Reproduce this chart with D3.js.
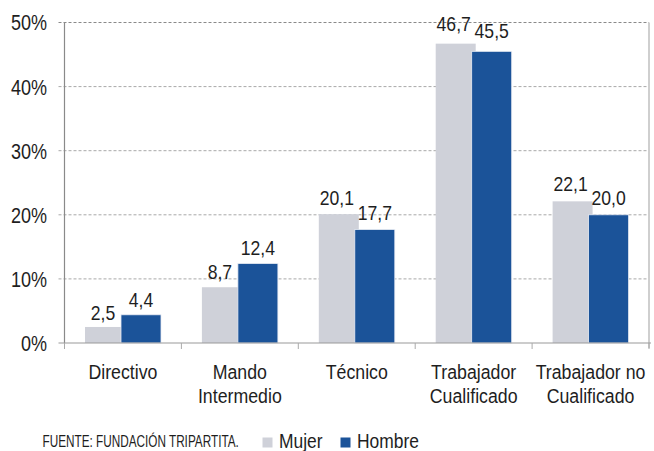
<!DOCTYPE html>
<html>
<head>
<meta charset="utf-8">
<script src="https://cdn.jsdelivr.net/npm/d3@7"></script>
<style>
  body { margin: 0; background: #fff; }
  text { font-family: "Liberation Sans", Arial, sans-serif; fill: #1e1e1e; }
</style>
</head>
<body>
<svg id="chart"></svg>
<script>
var categories = [["Directivo"], ["Mando", "Intermedio"], ["Técnico"], ["Trabajador", "Cualificado"], ["Trabajador no", "Cualificado"]];
var mujer = [2.5, 8.7, 20.1, 46.7, 22.1];
var hombre = [4.4, 12.4, 17.7, 45.5, 20.0];
var yTicks = [0, 10, 20, 30, 40, 50];
var seriesNames = ["Mujer", "Hombre"];
var sourceText = "FUENTE: FUNDACIÓN TRIPARTITA.";

var GRAY = '#cfd1d9';
var BLUE = '#1b5399';

var W = 654, H = 451;
var mLeft = 64.5, mRight = 649, mTop = 22.5, mBottom = 343;

var svg = d3.select("#chart").attr("width", W).attr("height", H);

var x = d3.scaleBand().domain(d3.range(categories.length)).range([mLeft, mRight]).padding(0);
var y = d3.scaleLinear().domain([0, 50]).range([mBottom, mTop]);

// condensed look: horizontal squeeze around the anchor point
function squeeze(sel, fx, fy, sx) {
  sel.attr("x", 0).attr("y", 0)
    .attr("transform", function(d, i) {
      return "translate(" + fx(d, i) + "," + fy(d, i) + ") scale(" + sx + ",1)";
    });
}

// grid lines
svg.selectAll("line.grid")
  .data(yTicks.filter(function(d) { return d > 0; }))
  .enter().append("line")
  .attr("class", "grid")
  .attr("x1", mLeft - 6).attr("x2", mRight)
  .attr("y1", function(d) { return y(d); })
  .attr("y2", function(d) { return y(d); })
  .attr("stroke", function(d) { return d === 50 ? '#8a8a8a' : '#a8a8a8'; })
  .attr("stroke-width", 1)
  .attr("stroke-dasharray", "3,2");

// right border
svg.append("line")
  .attr("x1", mRight).attr("x2", mRight)
  .attr("y1", mTop).attr("y2", mBottom + 5)
  .attr("stroke", "#cfcfcf").attr("stroke-width", 2);

// bars
var bw = 40;
var off = 20.5;
svg.selectAll("rect.mujer")
  .data(mujer).enter().append("rect")
  .attr("class", "mujer")
  .attr("x", function(d, i) { return x(i) + off; })
  .attr("y", function(d) { return y(d); })
  .attr("width", bw)
  .attr("height", function(d) { return y(0) - y(d); })
  .attr("fill", GRAY);

svg.selectAll("rect.hombre")
  .data(hombre).enter().append("rect")
  .attr("class", "hombre")
  .attr("x", function(d, i) { return x(i) + off + 36; })
  .attr("y", function(d) { return y(d); })
  .attr("width", bw)
  .attr("height", function(d) { return y(0) - y(d); })
  .attr("fill", BLUE)
  .attr("stroke", "#e8ecf3").attr("stroke-width", 0.8);

// value labels (gap above bar grows a little with bar height, like the original)
function fmt(v) { return v.toFixed(1).replace(".", ","); }
function labelY(d) { return y(d) - (7 + d * 0.13); }
svg.selectAll("text.vm")
  .data(mujer).enter().append("text")
  .attr("class", "vm")
  .attr("text-anchor", "middle")
  .attr("font-size", 20)
  .text(fmt)
  .call(squeeze, function(d, i) { return x(i) + off + 18; }, labelY, 0.88);
svg.selectAll("text.vh")
  .data(hombre).enter().append("text")
  .attr("class", "vh")
  .attr("text-anchor", "middle")
  .attr("font-size", 20)
  .text(fmt)
  .call(squeeze, function(d, i) { return x(i) + off + 56; }, labelY, 0.88);

// y axis
svg.append("line")
  .attr("x1", mLeft).attr("x2", mLeft)
  .attr("y1", mTop).attr("y2", mBottom)
  .attr("stroke", "#8a8a8a").attr("stroke-width", 1.2);
svg.selectAll("text.ytick")
  .data(yTicks).enter().append("text")
  .attr("class", "ytick")
  .attr("dy", "0.36em")
  .attr("text-anchor", "end")
  .attr("font-size", 22)
  .text(function(d) { return d + "%"; })
  .call(squeeze, function() { return 47; }, function(d) { return y(d); }, 0.82);

// x axis
svg.append("line")
  .attr("x1", mLeft - 6).attr("x2", mRight + 2)
  .attr("y1", mBottom).attr("y2", mBottom)
  .attr("stroke", "#999").attr("stroke-width", 1.2);
svg.selectAll("line.xtick")
  .data(d3.range(categories.length + 1)).enter().append("line")
  .attr("class", "xtick")
  .attr("x1", function(d) { return mLeft + d * x.bandwidth(); })
  .attr("x2", function(d) { return mLeft + d * x.bandwidth(); })
  .attr("y1", mBottom).attr("y2", mBottom + 6)
  .attr("stroke", "#aaa").attr("stroke-width", 1);

var catLines = [];
categories.forEach(function(c, i) {
  c.forEach(function(s, j) { catLines.push({ s: s, i: i, j: j }); });
});
svg.selectAll("text.cat")
  .data(catLines).enter().append("text")
  .attr("class", "cat")
  .attr("text-anchor", "middle")
  .attr("font-size", 21)
  .text(function(d) { return d.s; })
  .call(squeeze, function(d) { return x(d.i) + x.bandwidth() / 2; }, function(d) { return 379 + d.j * 23.5; }, 0.845);

// footer + legend
svg.append("text")
  .attr("font-size", 16)
  .text(sourceText)
  .call(squeeze, function() { return 42.5; }, function() { return 446.5; }, 0.735);

var legColors = [GRAY, BLUE];
var legX = [262.5, 340.5];
svg.selectAll("rect.leg")
  .data(seriesNames).enter().append("rect")
  .attr("class", "leg")
  .attr("x", function(d, i) { return legX[i]; })
  .attr("y", 437.5)
  .attr("width", 10).attr("height", 10)
  .attr("fill", function(d, i) { return legColors[i]; });
svg.selectAll("text.leg")
  .data(seriesNames).enter().append("text")
  .attr("class", "leg")
  .attr("font-size", 21)
  .text(function(d) { return d; })
  .call(squeeze, function(d, i) { return legX[i] + 16.5; }, function() { return 447.5; }, 0.83);
</script>
</body>
</html>
